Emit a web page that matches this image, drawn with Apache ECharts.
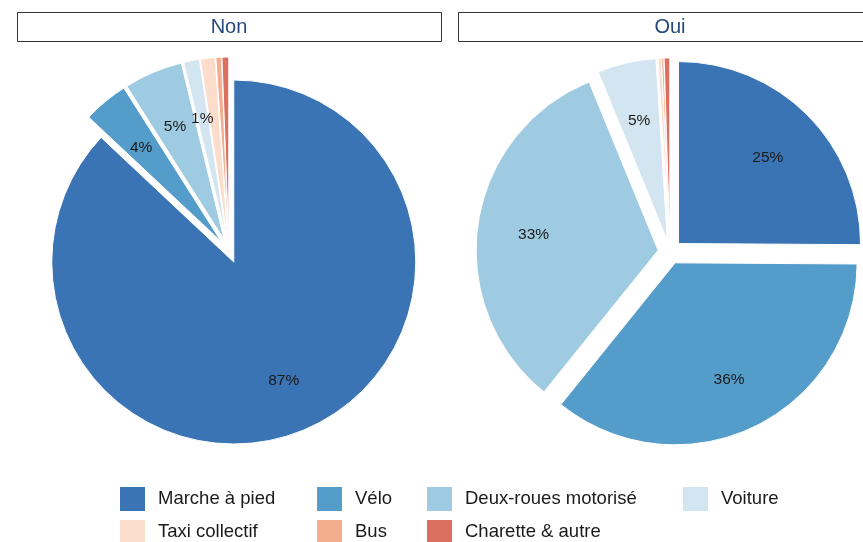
<!DOCTYPE html>
<html>
<head>
<meta charset="utf-8">
<script src="https://cdn.jsdelivr.net/npm/echarts@6/dist/echarts.min.js"></script>
<style>
  html, body { margin: 0; padding: 0; background: #fff; }
  #chart { width: 863px; height: 542px; }
</style>
</head>
<body>
<div id="chart"></div>
<script>
// data
const categories = ['Marche à pied', 'Vélo', 'Deux-roues motorisé', 'Voiture', 'Taxi collectif', 'Bus', 'Charette & autre'];
const colors = ['#3a74b4', '#549cc9', '#9ecbe1', '#d3e5f1', '#fcdccb', '#f4ad8e', '#dc6f5f'];
const panels = ['Non', 'Oui'];
const valuesNon = [87.0, 4.0, 5.2, 1.4, 1.3, 0.5, 0.6];
const valuesOui = [25.1, 35.7, 33.0, 5.2, 0.3, 0.2, 0.5];
const minLabel = 1.35; // smaller slices get no text

const chartDom = document.getElementById('chart');
const myChart = echarts.init(chartDom, null, { renderer: 'canvas' });

const FONT = '"Liberation Sans", Arial, sans-serif';
const R = 182;
const PULL = 12;
const centers = [[229, 251], [670, 252]];

function items(values) {
  return values.map((v, i) => ({
    name: categories[i],
    value: v,
    selected: true,
    itemStyle: { color: colors[i] }
  }));
}

const series = [];
[valuesNon, valuesOui].forEach((vals, k) => {
  // the slices
  series.push({
    type: 'pie',
    center: centers[k],
    radius: [0, R],
    startAngle: 90,
    clockwise: true,
    selectedMode: 'multiple',
    selectedOffset: PULL,
    silent: true,
    animation: false,
    itemStyle: { borderColor: '#fff', borderWidth: 1 },
    label: { show: false },
    labelLine: { show: false },
    emphasis: { disabled: true },
    data: items(vals)
  });
  // transparent ring, only to put the percent text further out
  series.push({
    type: 'pie',
    center: centers[k],
    radius: [R * 0.35, R],
    startAngle: 90,
    clockwise: true,
    selectedMode: 'multiple',
    selectedOffset: PULL,
    silent: true,
    animation: false,
    z: 5,
    itemStyle: { color: 'rgba(0,0,0,0)', borderWidth: 0 },
    label: {
      show: true,
      position: 'inside',
      fontFamily: FONT,
      fontSize: 15.5,
      color: '#1a1a1a',
      formatter: p => (p.percent >= minLabel ? Math.round(p.percent) + '%' : '')
    },
    labelLayout: { dy: 3 },
    labelLine: { show: false },
    emphasis: { disabled: true },
    data: vals.map((v, i) => ({ name: categories[i], value: v, selected: true, itemStyle: { color: 'rgba(0,0,0,0)' } }))
  });
});

// legend laid out in columns
const legendCols = [
  [categories[0], categories[4]],
  [categories[1], categories[5]],
  [categories[2], categories[6]],
  [categories[3]]
];
const legendLeft = [120, 317, 427, 683];
const legends = legendCols.map((col, i) => ({
  orient: 'vertical',
  left: legendLeft[i],
  top: 487,
  height: 80,
  padding: 0,
  itemGap: 9,
  itemWidth: 25,
  itemHeight: 24,
  icon: 'rect',
  selectedMode: false,
  itemStyle: { borderWidth: 0 },
  data: col,
  textStyle: { fontFamily: FONT, fontSize: 18.5, color: '#1a1a1a', padding: [0, 0, 0, 8] }
}));

// facet strips
const strips = panels.map((t, k) => ({
  type: 'group',
  children: [
    {
      type: 'rect',
      shape: { x: k === 0 ? 17.5 : 458.5, y: 12.5, width: 424, height: 29 },
      style: { fill: '#fff', stroke: '#333', lineWidth: 1 }
    },
    {
      type: 'text',
      x: centers[k][0],
      y: 27.5,
      style: {
        text: t,
        fontFamily: FONT,
        fontSize: 20,
        fill: '#24497a',
        align: 'center',
        verticalAlign: 'middle'
      }
    }
  ]
}));

const option = {
  backgroundColor: '#fff',
  animation: false,
  legend: legends,
  graphic: strips,
  series: series
};

myChart.setOption(option);
</script>
</body>
</html>
